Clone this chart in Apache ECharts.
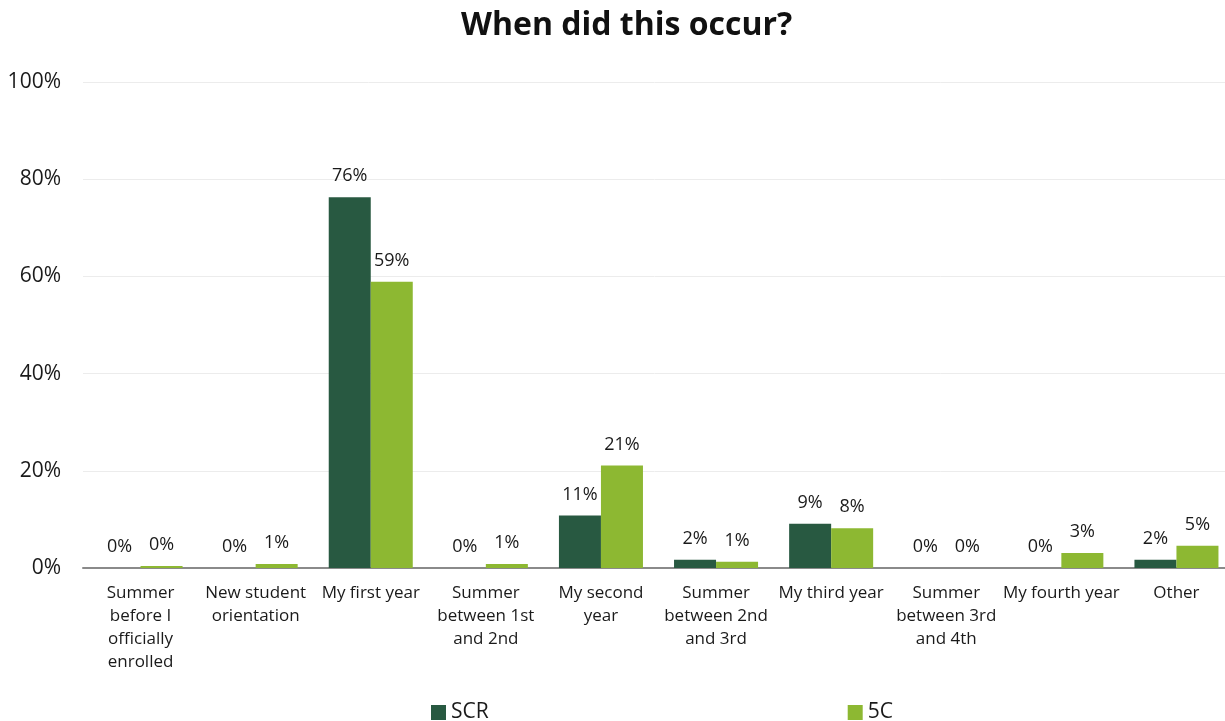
<!DOCTYPE html>
<html>
<head>
<meta charset="utf-8">
<script src="https://cdn.jsdelivr.net/npm/echarts@6/dist/echarts.min.js"></script>
<style>
  html, body { margin: 0; padding: 0; background: #fff; }
  #chart { width: 1225px; height: 721px; }
</style>
</head>
<body>
<div id="chart"></div>
<script>
// Survey answer categories (line breaks give the wrapped axis labels)
const categories = [
  'Summer\nbefore I\nofficially\nenrolled',
  'New student\norientation',
  'My first year',
  'Summer\nbetween 1st\nand 2nd',
  'My second\nyear',
  'Summer\nbetween 2nd\nand 3rd',
  'My third year',
  'Summer\nbetween 3rd\nand 4th',
  'My fourth year',
  'Other'
];

// Share of respondents, in percent
const scrValues = [0, 0, 76.3, 0, 10.8, 1.7, 9.1, 0, 0, 1.7];
const fiveCValues = [0.4, 0.8, 58.9, 0.8, 21.1, 1.3, 8.2, 0, 3.1, 4.6];

const yTicks = [0, 20, 40, 60, 80, 100];
const seriesNames = ['SCR', '5C'];

const FONT = '"Open Sans", "Noto Sans", sans-serif';

const labelOpt = {
  show: true,
  position: 'top',
  distance: 12,
  color: '#1a1a1a',
  fontFamily: FONT,
  fontSize: 18,
  formatter: p => Math.round(p.value) + '%'
};

const chart = echarts.init(document.getElementById('chart'));
chart.setOption({
  animation: false,
  title: {
    text: 'When did this occur?',
    left: 456,
    top: 5,
    textStyle: { fontFamily: FONT, fontSize: 32, fontWeight: 'bold', color: '#111' }
  },
  legend: {
    data: seriesNames,
    bottom: -7,
    left: 426,
    itemGap: 359,
    itemWidth: 15,
    itemHeight: 15,
    icon: 'rect',
    textStyle: { fontFamily: FONT, fontSize: 21, color: '#1a1a1a' }
  },
  // plot runs slightly past the right edge of the canvas
  grid: { left: 83, width: 1151, top: 82, bottom: 153, containLabel: false, outerBoundsMode: 'none' },
  xAxis: {
    type: 'category',
    data: categories,
    axisTick: { show: false },
    axisLine: { lineStyle: { color: '#8a8a8a', width: 2 } },
    axisLabel: {
      interval: 0,
      margin: 14,
      color: '#1a1a1a',
      fontFamily: FONT,
      fontSize: 17,
      lineHeight: 23
    }
  },
  yAxis: {
    type: 'value',
    min: yTicks[0],
    max: yTicks[yTicks.length - 1],
    interval: 20,
    axisLine: { show: false },
    axisTick: { show: false },
    splitLine: { lineStyle: { color: '#ececec', width: 1 } },
    axisLabel: {
      margin: 22,
      color: '#1a1a1a',
      fontFamily: FONT,
      fontSize: 21,
      formatter: v => v + '%'
    }
  },
  series: [
    {
      name: seriesNames[0],
      type: 'bar',
      data: scrValues,
      barGap: '0%',
      barCategoryGap: '27%',
      itemStyle: { color: '#285941' },
      label: labelOpt
    },
    {
      name: seriesNames[1],
      type: 'bar',
      data: fiveCValues,
      itemStyle: { color: '#8db832' },
      label: labelOpt
    }
  ]
});
</script>
</body>
</html>
